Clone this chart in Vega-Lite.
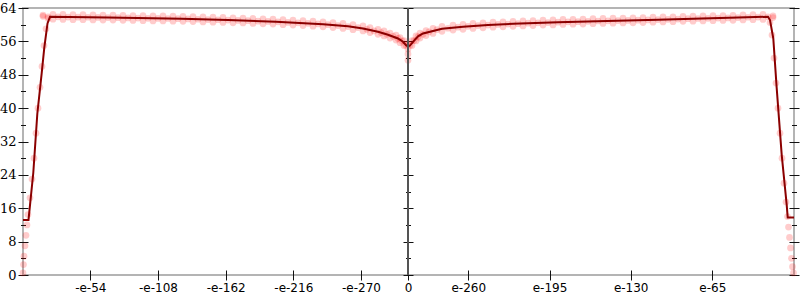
{
  "$schema": "https://vega.github.io/schema/vega-lite/v6.json",
  "width": 771,
  "height": 267,
  "autosize": {"type": "none"},
  "padding": {"left": 23, "top": 8, "right": 6, "bottom": 25},
  "background": "white",
  "config": {
    "view": {"stroke": "#b4b4b4", "strokeWidth": 2},
    "axis": {"grid": false, "domain": false, "labelFlush": false, "labelOverlap": false, "labelBound": false, "tickColor": "#111", "tickWidth": 1, "zindex": 1, "title": null}
  },
  "datasets": {
    "line": [
      {"x": -385, "y": 13.2}, {"x": -379.5, "y": 13.2}, {"x": -374.7, "y": 24.5}, {"x": -370.7, "y": 38.6},
      {"x": -366.3, "y": 48.4}, {"x": -363.7, "y": 54.5}, {"x": -360.5, "y": 60.3}, {"x": -358, "y": 61.9},
      {"x": -300, "y": 61.7}, {"x": -226, "y": 61.4}, {"x": -180, "y": 61.1}, {"x": -132, "y": 60.7},
      {"x": -85, "y": 60.1}, {"x": -60, "y": 59.6}, {"x": -45, "y": 59.1}, {"x": -30, "y": 58.3},
      {"x": -20, "y": 57.6}, {"x": -10, "y": 56.7}, {"x": -5, "y": 55.9}, {"x": -2, "y": 55.1},
      {"x": 0, "y": 54.8}, {"x": 2, "y": 55.0}, {"x": 5, "y": 55.9}, {"x": 10, "y": 57.2},
      {"x": 15, "y": 57.9}, {"x": 25, "y": 58.5}, {"x": 34, "y": 59.0}, {"x": 55, "y": 59.5},
      {"x": 80, "y": 59.9}, {"x": 105, "y": 60.2}, {"x": 150, "y": 60.6}, {"x": 199, "y": 60.9},
      {"x": 250, "y": 61.2}, {"x": 294, "y": 61.5}, {"x": 330, "y": 61.7}, {"x": 360, "y": 61.9},
      {"x": 362, "y": 61.1}, {"x": 365.3, "y": 56.7}, {"x": 368.7, "y": 44.8}, {"x": 373.7, "y": 28.8},
      {"x": 378.7, "y": 16.8}, {"x": 379.7, "y": 13.8}, {"x": 386, "y": 13.8}
    ],
    "pts": [
      {"x": -365, "y": 62.0}, {"x": -365, "y": 62.3},
      {"x": -355, "y": 62.5}, {"x": -355, "y": 61.3},
      {"x": -345, "y": 62.45}, {"x": -345, "y": 61.25},
      {"x": -335, "y": 62.4}, {"x": -335, "y": 61.2},
      {"x": -325, "y": 62.4}, {"x": -325, "y": 61.2},
      {"x": -315, "y": 62.35}, {"x": -315, "y": 61.15},
      {"x": -305, "y": 62.3}, {"x": -305, "y": 61.1},
      {"x": -295, "y": 62.3}, {"x": -295, "y": 61.1},
      {"x": -285, "y": 62.25}, {"x": -285, "y": 61.05},
      {"x": -275, "y": 62.2}, {"x": -275, "y": 61.0},
      {"x": -265, "y": 62.15}, {"x": -265, "y": 60.95},
      {"x": -255, "y": 62.1}, {"x": -255, "y": 60.9},
      {"x": -245, "y": 62.1}, {"x": -245, "y": 60.9},
      {"x": -235, "y": 62.05}, {"x": -235, "y": 60.85},
      {"x": -225, "y": 62.0}, {"x": -225, "y": 60.8},
      {"x": -215, "y": 61.95}, {"x": -215, "y": 60.75},
      {"x": -205, "y": 61.85}, {"x": -205, "y": 60.65},
      {"x": -195, "y": 61.8}, {"x": -195, "y": 60.6},
      {"x": -185, "y": 61.75}, {"x": -185, "y": 60.55},
      {"x": -175, "y": 61.65}, {"x": -175, "y": 60.45},
      {"x": -165, "y": 61.6}, {"x": -165, "y": 60.4},
      {"x": -155, "y": 61.5}, {"x": -155, "y": 60.3},
      {"x": -145, "y": 61.4}, {"x": -145, "y": 60.2},
      {"x": -135, "y": 61.35}, {"x": -135, "y": 60.15},
      {"x": -125, "y": 61.2}, {"x": -125, "y": 60.0},
      {"x": -115, "y": 61.1}, {"x": -115, "y": 59.9},
      {"x": -105, "y": 61.0}, {"x": -105, "y": 59.8},
      {"x": -95, "y": 60.85}, {"x": -95, "y": 59.65},
      {"x": -85, "y": 60.7}, {"x": -85, "y": 59.5},
      {"x": -75, "y": 60.5}, {"x": -75, "y": 59.3},
      {"x": -65, "y": 60.3}, {"x": -65, "y": 59.1},
      {"x": -55, "y": 60.0}, {"x": -55, "y": 58.8},
      {"x": -45, "y": 59.7}, {"x": -45, "y": 58.5},
      {"x": -38, "y": 59.3}, {"x": -38, "y": 58.1},
      {"x": -30, "y": 58.9}, {"x": -30, "y": 57.7},
      {"x": -24, "y": 58.5}, {"x": -24, "y": 57.3},
      {"x": -18, "y": 58.0}, {"x": -18, "y": 56.8},
      {"x": -12, "y": 57.5}, {"x": -12, "y": 56.3},
      {"x": -8, "y": 56.9}, {"x": -8, "y": 55.7},
      {"x": -4, "y": 56.2}, {"x": -4, "y": 55.0},
      {"x": 0, "y": 55.4}, {"x": 0, "y": 54.2}, {"x": 0, "y": 53.0}, {"x": 0, "y": 51.5},
      {"x": 4, "y": 56.2}, {"x": 4, "y": 55.0},
      {"x": 8, "y": 57.3}, {"x": 8, "y": 56.1},
      {"x": 12, "y": 58.0}, {"x": 12, "y": 56.8},
      {"x": 18, "y": 58.6}, {"x": 18, "y": 57.4},
      {"x": 25, "y": 59.1}, {"x": 25, "y": 57.9},
      {"x": 34, "y": 59.6}, {"x": 34, "y": 58.4},
      {"x": 45, "y": 59.9}, {"x": 45, "y": 58.7},
      {"x": 55, "y": 60.1}, {"x": 55, "y": 58.9},
      {"x": 65, "y": 60.3}, {"x": 65, "y": 59.1},
      {"x": 75, "y": 60.45}, {"x": 75, "y": 59.25},
      {"x": 85, "y": 60.6}, {"x": 85, "y": 59.4},
      {"x": 95, "y": 60.7}, {"x": 95, "y": 59.5},
      {"x": 105, "y": 60.8}, {"x": 105, "y": 59.6},
      {"x": 115, "y": 60.9}, {"x": 115, "y": 59.7},
      {"x": 125, "y": 61.0}, {"x": 125, "y": 59.8},
      {"x": 135, "y": 61.1}, {"x": 135, "y": 59.9},
      {"x": 145, "y": 61.15}, {"x": 145, "y": 59.95},
      {"x": 155, "y": 61.25}, {"x": 155, "y": 60.05},
      {"x": 165, "y": 61.3}, {"x": 165, "y": 60.1},
      {"x": 175, "y": 61.35}, {"x": 175, "y": 60.15},
      {"x": 185, "y": 61.45}, {"x": 185, "y": 60.25},
      {"x": 195, "y": 61.5}, {"x": 195, "y": 60.3},
      {"x": 205, "y": 61.55}, {"x": 205, "y": 60.35},
      {"x": 215, "y": 61.6}, {"x": 215, "y": 60.4},
      {"x": 225, "y": 61.65}, {"x": 225, "y": 60.45},
      {"x": 235, "y": 61.7}, {"x": 235, "y": 60.5},
      {"x": 245, "y": 61.8}, {"x": 245, "y": 60.6},
      {"x": 255, "y": 61.85}, {"x": 255, "y": 60.65},
      {"x": 265, "y": 61.9}, {"x": 265, "y": 60.7},
      {"x": 275, "y": 62.0}, {"x": 275, "y": 60.8},
      {"x": 285, "y": 62.05}, {"x": 285, "y": 60.85},
      {"x": 295, "y": 62.1}, {"x": 295, "y": 60.9},
      {"x": 305, "y": 62.15}, {"x": 305, "y": 60.95},
      {"x": 315, "y": 62.2}, {"x": 315, "y": 61.0},
      {"x": 325, "y": 62.25}, {"x": 325, "y": 61.05},
      {"x": 335, "y": 62.35}, {"x": 335, "y": 61.15},
      {"x": 345, "y": 62.4}, {"x": 345, "y": 61.2},
      {"x": 355, "y": 62.45}, {"x": 355, "y": 61.25},
      {"x": 365, "y": 62.1}, {"x": 365, "y": 61.7},
      {"x": -360, "y": 61.9}, {"x": -350, "y": 61.88}, {"x": -340, "y": 61.83}, {"x": -330, "y": 61.8},
      {"x": -320, "y": 61.78}, {"x": -310, "y": 61.73}, {"x": -300, "y": 61.7}, {"x": -290, "y": 61.68},
      {"x": -280, "y": 61.63}, {"x": -270, "y": 61.58}, {"x": -260, "y": 61.53}, {"x": -250, "y": 61.5},
      {"x": -240, "y": 61.48}, {"x": -230, "y": 61.43}, {"x": -220, "y": 61.38}, {"x": -210, "y": 61.3},
      {"x": -200, "y": 61.23}, {"x": -190, "y": 61.18}, {"x": -180, "y": 61.1}, {"x": -170, "y": 61.03},
      {"x": -160, "y": 60.95}, {"x": -150, "y": 60.85}, {"x": -140, "y": 60.78}, {"x": -130, "y": 60.68},
      {"x": -120, "y": 60.55}, {"x": -110, "y": 60.45}, {"x": -100, "y": 60.33}, {"x": -90, "y": 60.18},
      {"x": -80, "y": 60.0}, {"x": -70, "y": 59.8}, {"x": -60, "y": 59.55}, {"x": -50, "y": 59.3},
      {"x": -41, "y": 58.9}, {"x": -34, "y": 58.5}, {"x": -27, "y": 58.1}, {"x": -21, "y": 57.7},
      {"x": -15, "y": 57.2}, {"x": -10, "y": 56.7}, {"x": -6, "y": 56.1}, {"x": -2, "y": 55.1},
      {"x": 2, "y": 55.1}, {"x": 6, "y": 56.2}, {"x": 10, "y": 57.1}, {"x": 15, "y": 57.7},
      {"x": 21, "y": 58.3}, {"x": 29, "y": 58.8}, {"x": 40, "y": 59.15}, {"x": 50, "y": 59.4},
      {"x": 60, "y": 59.6}, {"x": 70, "y": 59.8}, {"x": 80, "y": 59.9}, {"x": 90, "y": 60.05},
      {"x": 100, "y": 60.15}, {"x": 110, "y": 60.25}, {"x": 120, "y": 60.35}, {"x": 130, "y": 60.45},
      {"x": 140, "y": 60.5}, {"x": 150, "y": 60.6}, {"x": 160, "y": 60.68}, {"x": 170, "y": 60.73},
      {"x": 180, "y": 60.8}, {"x": 190, "y": 60.88}, {"x": 200, "y": 60.93}, {"x": 210, "y": 60.98},
      {"x": 220, "y": 61.03}, {"x": 230, "y": 61.08}, {"x": 240, "y": 61.15}, {"x": 250, "y": 61.23},
      {"x": 260, "y": 61.28}, {"x": 270, "y": 61.35}, {"x": 280, "y": 61.43}, {"x": 290, "y": 61.48},
      {"x": 300, "y": 61.53}, {"x": 310, "y": 61.58}, {"x": 320, "y": 61.63}, {"x": 330, "y": 61.7},
      {"x": 340, "y": 61.78}, {"x": 350, "y": 61.83}, {"x": 360, "y": 61.9},
      {"x": -385, "y": 0.5}, {"x": -384.5, "y": 2.5}, {"x": -384, "y": 4.5}, {"x": -383, "y": 7},
      {"x": -382, "y": 9.5}, {"x": -381, "y": 12}, {"x": -380, "y": 14.5}, {"x": -378, "y": 18.5},
      {"x": -376, "y": 23}, {"x": -374, "y": 28}, {"x": -372, "y": 34}, {"x": -370, "y": 40},
      {"x": -368, "y": 45}, {"x": -366, "y": 50}, {"x": -364, "y": 55}, {"x": -362, "y": 59}, {"x": -360, "y": 61.5},
      {"x": 362, "y": 60.5}, {"x": 364, "y": 57.5}, {"x": 366, "y": 52}, {"x": 368, "y": 46},
      {"x": 370, "y": 40}, {"x": 372, "y": 34}, {"x": 374, "y": 28}, {"x": 376, "y": 22},
      {"x": 378, "y": 17.5}, {"x": 379.5, "y": 14}, {"x": 380.5, "y": 11.5}, {"x": 381.5, "y": 9},
      {"x": 382.5, "y": 6.5}, {"x": 383.5, "y": 4}, {"x": 384.5, "y": 2}, {"x": 385.5, "y": 0.5}
    ]
  },
  "resolve": {"axis": {"x": "independent", "y": "independent"}},
  "layer": [
    {
      "data": {"name": "pts"},
      "mark": {"type": "circle", "color": "#ff0000", "opacity": 0.2, "size": 45},
      "encoding": {
        "x": {"field": "x", "type": "quantitative", "scale": {"domain": [-385, 386], "nice": false, "zero": false},
          "axis": {"orient": "bottom", "values": [-317.7, -250, -182.3, -114.7, -47, 0, 60.3, 141.5, 222.7, 304.3],
            "tickSize": 10, "offset": -5, "labelPadding": 2, "labelFont": "DejaVu Sans", "labelFontSize": 12, "labelColor": "#000",
            "labelExpr": "datum.value < -300 ? '-e-54' : datum.value < -200 ? '-e-108' : datum.value < -150 ? '-e-162' : datum.value < -100 ? '-e-216' : datum.value < -20 ? '-e-270' : datum.value < 20 ? '0' : datum.value < 100 ? 'e-260' : datum.value < 180 ? 'e-195' : datum.value < 260 ? 'e-130' : 'e-65'"}},
        "y": {"field": "y", "type": "quantitative", "scale": {"domain": [0, 64], "nice": false},
          "axis": {"orient": "left", "values": [0, 8, 16, 24, 32, 40, 48, 56, 64], "tickSize": 10, "offset": -5, "labelPadding": 2,
            "labelFont": "DejaVu Serif", "labelFontSize": 13, "labelColor": "#000"}}
      }
    },
    {
      "data": {"name": "line"},
      "mark": {"type": "line", "color": "#8b0000", "strokeWidth": 2},
      "encoding": {
        "x": {"field": "x", "type": "quantitative", "axis": null},
        "y": {"field": "y", "type": "quantitative",
          "axis": {"orient": "left", "values": [4, 12, 20, 28, 36, 44, 52, 60], "tickSize": 5, "offset": -2.5, "labels": false}}
      }
    },
    {
      "data": {"name": "line"},
      "mark": {"type": "rule", "color": "#555555", "strokeWidth": 1},
      "encoding": {"x": {"datum": 0, "type": "quantitative", "axis": null}}
    },
    {
      "data": {"name": "line"},
      "mark": {"type": "point", "opacity": 0},
      "encoding": {
        "x": {"field": "x", "type": "quantitative", "axis": null},
        "y": {"field": "y", "type": "quantitative",
          "axis": {"orient": "right", "values": [0, 8, 16, 24, 32, 40, 48, 56, 64], "tickSize": 10, "offset": -5, "labels": false}}
      }
    },
    {
      "data": {"name": "line"},
      "mark": {"type": "point", "opacity": 0},
      "encoding": {
        "x": {"field": "x", "type": "quantitative", "axis": null},
        "y": {"field": "y", "type": "quantitative",
          "axis": {"orient": "right", "values": [4, 12, 20, 28, 36, 44, 52, 60], "tickSize": 5, "offset": -2.5, "labels": false}}
      }
    },
    {
      "data": {"name": "line"},
      "mark": {"type": "point", "opacity": 0},
      "encoding": {
        "x": {"field": "x", "type": "quantitative", "axis": null},
        "y": {"field": "y", "type": "quantitative",
          "axis": {"orient": "right", "values": [0, 8, 16, 24, 32, 40, 48, 56, 64], "tickSize": 10, "offset": -391, "labels": false}}
      }
    },
    {
      "data": {"name": "line"},
      "mark": {"type": "point", "opacity": 0},
      "encoding": {
        "x": {"field": "x", "type": "quantitative", "axis": null},
        "y": {"field": "y", "type": "quantitative",
          "axis": {"orient": "right", "values": [4, 12, 20, 28, 36, 44, 52, 60], "tickSize": 5, "offset": -388.5, "labels": false}}
      }
    }
  ]
}
